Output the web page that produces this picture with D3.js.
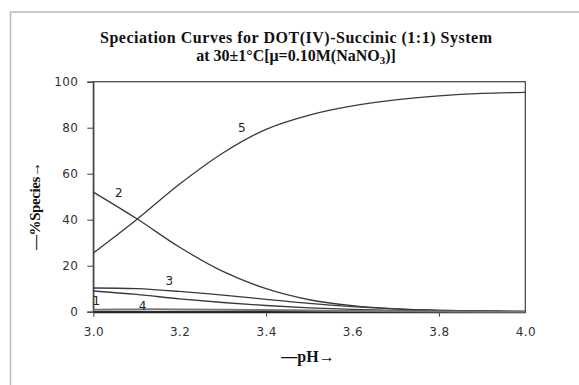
<!DOCTYPE html>
<html><head><meta charset="utf-8">
<script src="https://cdn.jsdelivr.net/npm/d3@7"></script>
<style>body{margin:0;background:#fff}svg{display:block}</style>
</head><body>
<svg id="c" width="579" height="385"></svg>
<script>
const pH = [3.0,3.1,3.2,3.3,3.4,3.5,3.6,3.7,3.8,3.9,4.0];
const s1 = [9.0,7.5,5.6,4.0,2.7,1.7,1.0,0.6,0.3,0.15,0.05];
const s2 = [52,40.5,28,17.5,10,5.2,2.6,1.2,0.6,0.3,0.1];
const s3 = [10.3,10.0,8.8,7.2,5.4,3.6,2.2,1.2,0.6,0.3,0.1];
const s4 = [0.8,1.0,1.0,0.9,0.7,0.5,0.3,0.15,0.05,0.02,0.0];
const s5 = [25.5,40,55.5,69,79.3,85.5,89.5,92.1,93.8,94.9,95.4];
const seriesNames = ["1","2","3","4","5"];
const seriesValues = [s1,s2,s3,s4,s5];
const xTicks = [3.0,3.2,3.4,3.6,3.8,4.0];
const xTickMarks = [3.0,3.4,3.8];
const yTicks = [0,20,40,60,80,100];
const labelPos = [[2.998,2.9],[3.05,50],[3.167,11.6],[3.105,0.7],[3.335,78]];
const title1 = "Speciation Curves for DOT(IV)-Succinic (1:1) System";

const svg = d3.select("#c");
const x = d3.scaleLinear().domain([3.0,4.0]).range([93.3,525.3]);
const y = d3.scaleLinear().domain([0,100]).range([311.7,81.7]);

// outer frame
svg.append("rect").attr("x",10.5).attr("y",12).attr("width",600).attr("height",400)
  .attr("fill","none").attr("stroke","#b8b8b8").attr("stroke-width",1.5);

// plot border
svg.append("rect").attr("x",x(3)).attr("y",y(100)).attr("width",x(4)-x(3)).attr("height",y(0)-y(100))
  .attr("fill","none").attr("stroke","#404040").attr("stroke-width",1.2);

// axes
const ya = svg.append("g").attr("transform",`translate(${x(3)},0)`)
  .call(d3.axisLeft(y).tickValues(yTicks).tickSize(6).tickPadding(9).tickFormat(d3.format("d")));
const xa = svg.append("g").attr("transform",`translate(0,${y(0)})`)
  .call(d3.axisBottom(x).tickValues(xTicks).tickSize(0).tickPadding(16).tickFormat(d3.format(".1f")));
svg.append("g").attr("transform",`translate(0,${y(0)})`)
  .call(d3.axisBottom(x).tickValues(xTickMarks).tickSize(5).tickFormat(""))
  .call(g=>g.select(".domain").remove());
svg.selectAll(".tick line").attr("stroke","#404040");
svg.selectAll(".domain").attr("stroke","#404040").attr("stroke-width",1.2);
svg.selectAll(".tick text").attr("font-family","'DejaVu Sans', sans-serif").attr("font-size",12)
  .attr("letter-spacing",0.4).attr("fill","#333");
xa.select(".domain").attr("stroke","#222").attr("stroke-width",2);

// curves
const line = d3.line().x((d,i)=>x(pH[i])).y(d=>y(d)).curve(d3.curveCatmullRom.alpha(0.5));
seriesValues.forEach((vals,k)=>{
  svg.append("path").attr("d",line(vals)).attr("fill","none")
    .attr("stroke", k===3 ? "#777" : "#3a3a3a").attr("stroke-width", k===3?2:1.3);
});

// curve labels
seriesNames.forEach((n,k)=>{
  svg.append("text").attr("x",x(labelPos[k][0])).attr("y",y(labelPos[k][1]))
    .attr("font-family","'DejaVu Sans', sans-serif").attr("font-size",12).attr("fill","#222").text(n);
});

// title
svg.append("text").attr("x",296).attr("y",43).attr("text-anchor","middle").attr("font-family","'Liberation Serif', serif")
  .attr("font-weight","bold").attr("font-size",16).attr("fill","#111")
  .attr("textLength",392).attr("lengthAdjust","spacing").text(title1);
const t = svg.append("text").attr("text-anchor","middle").attr("font-family","'Liberation Serif', serif")
  .attr("font-weight","bold").attr("font-size",16).attr("fill","#111");
const t2 = t.append("tspan").attr("x",296).attr("y",61);
t2.text("at 30±1°C[μ=0.10M(NaNO");
t2.append("tspan").attr("font-size",11).attr("dy",3).text("3");
t2.append("tspan").attr("dy",-3).text(")]");

// axis titles
svg.append("text").attr("transform","translate(40,206) rotate(-90)").attr("text-anchor","middle")
  .attr("font-family","'Liberation Serif', serif").attr("font-weight","bold").attr("font-size",15).attr("fill","#111")
  .attr("textLength",88).attr("lengthAdjust","spacing")
  .text("—%Species→");
svg.append("text").attr("x",308).attr("y",362).attr("text-anchor","middle")
  .attr("font-family","'Liberation Serif', serif").attr("font-weight","bold").attr("font-size",16).attr("fill","#111")
  .text("—pH→");
</script>
</body></html>
